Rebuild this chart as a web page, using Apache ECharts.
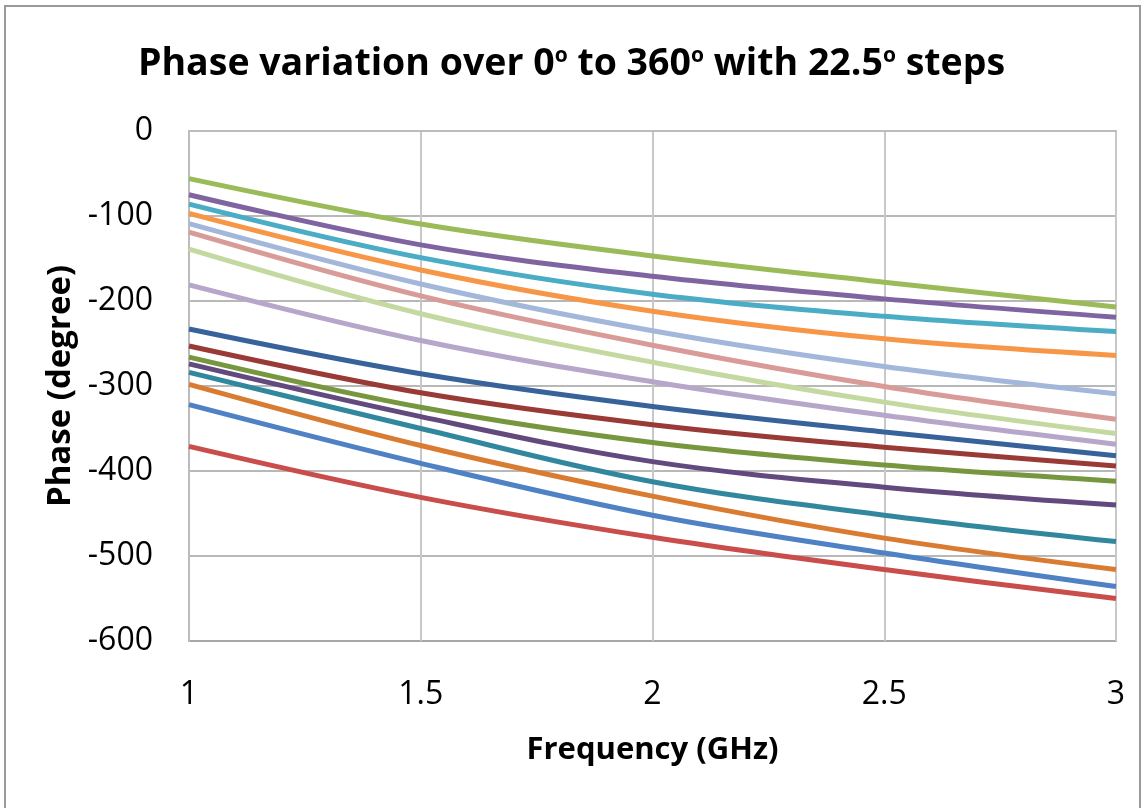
<!DOCTYPE html>
<html>
<head>
<meta charset="utf-8">
<script src="https://cdn.jsdelivr.net/npm/echarts@6/dist/echarts.min.js"></script>
<style>
html,body{margin:0;padding:0;background:#fff;}
#chart{width:1143px;height:808px;}
</style>
</head>
<body>
<div id="chart"></div>
<script>
const freqs = [1, 1.5, 2, 2.5, 3];
const xTicks = [1, 1.5, 2, 2.5, 3];
const yTicks = [0, -100, -200, -300, -400, -500, -600];

const s01 = [-56, -109.5, -147, -178, -207];
const s02 = [-75, -134, -171, -197.5, -219];
const s03 = [-86, -149, -192, -218, -236];
const s04 = [-97, -163.5, -212, -244.5, -264];
const s05 = [-109, -180, -235, -277, -309];
const s06 = [-119, -194, -252, -300.5, -339];
const s07 = [-139, -215, -272, -319, -356];
const s08 = [-181, -246.5, -295, -334.5, -368.5];
const s09 = [-233, -285.6, -324, -354, -382];
const s10 = [-253, -308, -345.5, -372, -394];
const s11 = [-266, -325, -366.5, -393, -412];
const s12 = [-274, -336, -389, -419, -440];
const s13 = [-284, -350, -412.6, -452, -483];
const s14 = [-298, -370, -429.6, -479, -516];
const s15 = [-322, -391, -452, -496.5, -536];
const s16 = [-371, -431, -478, -516, -550];

const seriesValues = [s01,s02,s03,s04,s05,s06,s07,s08,s09,s10,s11,s12,s13,s14,s15,s16];
const colors = ['#9BBB59','#8064A2','#4BACC6','#F79646','#A3B7DA','#D99B98','#C4D9A0','#B6A7CA',
                '#37639A','#993A37','#77973E','#62497E','#31889E','#D97C32','#4F81C5','#C94D4A'];

const chart = echarts.init(document.getElementById('chart'));
const fontFam = '"Open Sans", "Noto Sans", sans-serif';

chart.setOption({
  backgroundColor: '#fff',
  animation: false,
  title: {
    text: 'Phase variation over 0{s|o} to 360{s|o} with 22.5{s|o} steps',
    left: 'center',
    top: 40,
    textStyle: {
      fontFamily: fontFam, fontWeight: 'bold', fontSize: 37.5, color: '#000',
      rich: { s: { fontFamily: fontFam, fontSize: 21, fontWeight: 'bold', color: '#000', padding: [0,0,16,0] } }
    }
  },
  graphic: [{
    type: 'rect', shape: {x: 5, y: 6, width: 1135, height: 810},
    style: {fill: 'none', stroke: '#9a9a9a', lineWidth: 2}, silent: true, z: -1
  }],
  grid: { left: 189, right: 27, top: 131, bottom: 167, show: true, borderColor: '#bcbcbc', borderWidth: 2 },
  xAxis: {
    type: 'value', min: 1, max: 3, interval: 0.5,
    name: 'Frequency (GHz)', nameLocation: 'middle', nameGap: 94,
    nameTextStyle: { fontFamily: fontFam, fontWeight: 'bold', fontSize: 31, color: '#000' },
    axisLine: { show: true, lineStyle: { color: '#bcbcbc', width: 2 } },
    axisTick: { show: false },
    axisLabel: { fontFamily: fontFam, fontSize: 32, color: '#000', margin: 38,
                 formatter: v => xTicks.includes(v) ? String(v) : '' },
    splitLine: { show: true, lineStyle: { color: '#c8c8c8', width: 2 } }
  },
  yAxis: {
    type: 'value', min: -600, max: 0, interval: 100,
    name: 'Phase (degree)', nameLocation: 'middle', nameGap: 112, nameRotate: 90,
    nameTextStyle: { fontFamily: fontFam, fontWeight: 'bold', fontSize: 33, color: '#000' },
    axisLine: { show: true, lineStyle: { color: '#bcbcbc', width: 2 } },
    axisTick: { show: false },
    axisLabel: { fontFamily: fontFam, fontSize: 32, color: '#000', margin: 36,
                 formatter: v => yTicks.includes(v) ? String(v) : '' },
    splitLine: { show: true, lineStyle: { color: '#a0a0a0', width: 1.5 } }
  },
  series: seriesValues.map((vals, i) => ({
    type: 'line',
    data: freqs.map((f, j) => [f, vals[j]]),
    smooth: 0.35,
    showSymbol: false,
    lineStyle: { color: colors[i], width: 5 },
    itemStyle: { color: colors[i] },
    z: 3 + i
  }))
});
</script>
</body>
</html>
